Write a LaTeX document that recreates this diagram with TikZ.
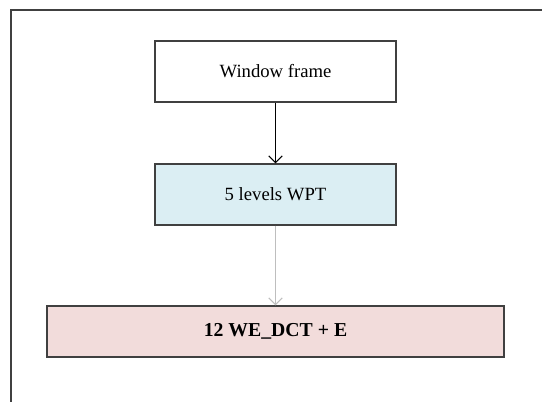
\documentclass[tikz,border=0pt]{standalone}
\usepackage{fontspec}
\setmainfont{Liberation Serif}
\usetikzlibrary{arrows.meta}
\definecolor{boxline}{RGB}{64,64,64}
\definecolor{wptblue}{RGB}{219,238,243}
\definecolor{featred}{RGB}{242,220,219}
\definecolor{linkgray}{RGB}{190,190,190}

\tikzset{
  stage/.style={draw=boxline, line width=1.1pt, minimum width=180.75pt, minimum height=45.75pt, inner sep=0pt, font=\fontsize{14}{16}\selectfont},
  link/.style={-{Straight Barb[length=5pt,width=10pt]}, line width=0.8pt}
}

\begin{document}
\begin{tikzpicture}[x=0.75pt, y=-0.75pt]
\useasboundingbox (0,0) rectangle (542,402);

\draw[boxline, line width=1.1pt] (11,402)--(11,10)--(542,10);

\node[stage] (window) at (275.5,71.5) {Window frame};
\node[stage, fill=wptblue] (wpt) at (275.5,194.5) {5 levels WPT};
\node[stage, fill=featred, minimum width=342.75pt, minimum height=38.25pt, font=\fontsize{14.8}{17}\selectfont\bfseries] (feat) at (275.5,331.5) {12 WE\_DCT + E};

\draw[link] (window) -- (wpt);
\draw[link, linkgray] (wpt) -- (feat);

\end{tikzpicture}
\end{document}
